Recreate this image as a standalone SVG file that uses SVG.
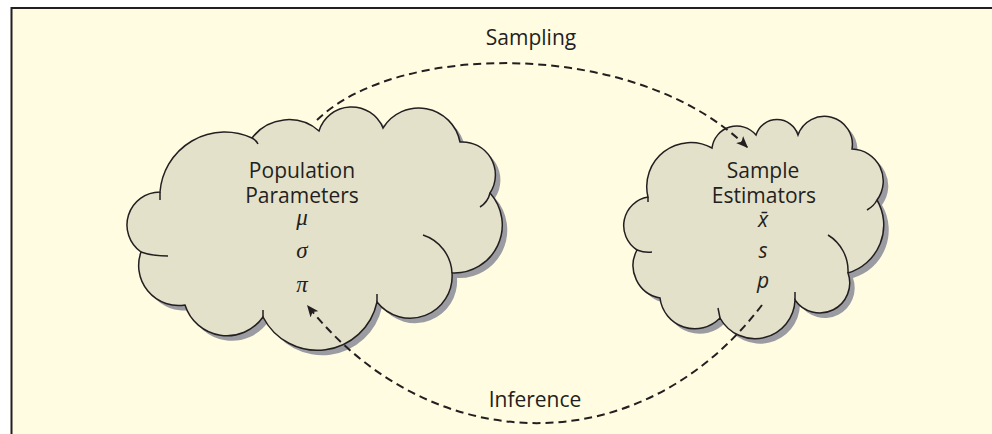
<svg xmlns="http://www.w3.org/2000/svg" width="992" height="434" viewBox="0 0 992 434">
<style>
.lbl{font-family:"Open Sans","Noto Sans","Liberation Sans",sans-serif;font-size:21px;fill:#231f20;text-anchor:middle}
.gk{font-family:"Liberation Serif","DejaVu Serif",serif;font-style:italic;font-size:23px;fill:#231f20;text-anchor:middle}
.it{font-family:"Open Sans","Noto Sans","Liberation Sans",sans-serif;font-style:italic;font-size:21px;fill:#231f20;text-anchor:middle}
.shadow{fill:#9b9ba2}
.body{fill:#e4e1cb;stroke:#231f20;stroke-width:1.5}
.tail{fill:none;stroke:#231f20;stroke-width:1.5}
.conn{fill:none;stroke:#231f20;stroke-width:2;stroke-dasharray:8 5}
</style>
<defs>
<marker id="ah" viewBox="0 0 12 10" refX="12" refY="5" markerWidth="12" markerHeight="10" markerUnits="userSpaceOnUse" orient="auto">
<path d="M0,0 L12,5 L0,10 L3,5 Z" fill="#231f20"/>
</marker>
<path id="cloudL" d="M160,192 A65,65 0 0 1 252,138 A46,46 0 0 1 319,131 A34,34 0 0 1 383,128 A42,42 0 0 1 460,142 A33,33 0 0 1 490,193 A48,48 0 0 1 452,273 A42,42 0 0 1 377,302 A61,61 0 0 1 263,317 A44,44 0 0 1 185,305 A40,40 0 0 1 141,252 A33,33 0 0 1 160,192 Z"/>
<path id="cloudR" d="M648,197 A44,44 0 0 1 712,148 A25,25 0 0 1 756,135 A22,22 0 0 1 798,135 A28,28 0 0 1 852,149 A32,32 0 0 1 877,200 A50,50 0 0 1 848,273 A30,30 0 0 1 795,300 A40,40 0 0 1 720,318 A35,35 0 0 1 660,298 A33,33 0 0 1 637,250 A29,29 0 0 1 648,197 Z"/>
</defs>
<rect x="0" y="0" width="992" height="434" fill="#ffffff"/>
<rect x="12" y="8" width="990" height="440" fill="#fffce1"/>
<path d="M11.5,434 L11.5,8 L992,8" fill="none" stroke="#231f20" stroke-width="2"/>
<g id="population">
<use href="#cloudL" class="shadow" transform="translate(5,5)"/>
<use href="#cloudL" class="body"/>
<path class="tail" d="M423,235 A42,42 0 0 1 452,273 M490,193 Q488,202 480,207 M141,252 Q152,256 168,256 M160,192 L160,200 M252,138 Q256,140 258,144 M377,302 L377,294 M263,317 L263,310"/>
<text class="lbl" x="302" y="178">Population</text>
<text class="lbl" x="302" y="203">Parameters</text>
<text class="gk" x="302" y="225">μ</text>
<text class="gk" x="302" y="258">σ</text>
<text class="gk" x="302" y="292">π</text>
</g>
<g id="sample">
<use href="#cloudR" class="shadow" transform="translate(5,5)"/>
<use href="#cloudR" class="body"/>
<path class="tail" d="M828,235 A42,42 0 0 1 848,273 M877,200 Q874,206 867,210 M637,250 Q645,253 652,252 M648,197 L648,202 M720,318 L718,308 M795,300 L795,292"/>
<text class="lbl" x="763" y="178">Sample</text>
<text class="lbl" x="764" y="203">Estimators</text>
<text class="it" x="763" y="227">x̄</text>
<text class="it" x="763" y="258">s</text>
<text class="it" x="763" y="288">p</text>
</g>
<g id="connectors">
<path class="conn" d="M317,120 C400,40 640,40 748,148" marker-end="url(#ah)"/>
<path class="conn" d="M762,305 C640,465 430,460 307,305" marker-end="url(#ah)"/>
<text class="lbl" x="531" y="45">Sampling</text>
<text class="lbl" x="535" y="407">Inference</text>
</g>
</svg>
